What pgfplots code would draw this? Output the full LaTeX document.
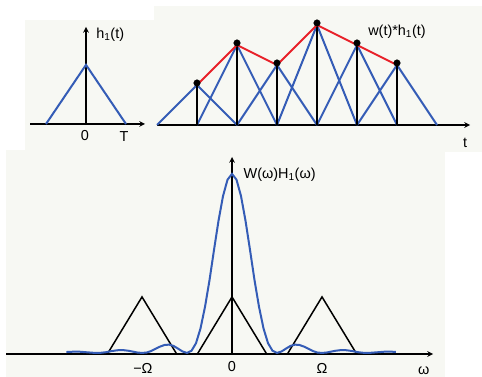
\documentclass[border=0pt]{standalone}
\usepackage{fontspec}
\setmainfont{Liberation Sans}
\usepackage{pgfplots}
\pgfplotsset{compat=1.18}
\usetikzlibrary{arrows.meta}
\definecolor{bgc}{RGB}{247,248,243}
\definecolor{cblue}{RGB}{52,92,182}
\definecolor{cred}{RGB}{232,32,40}
\begin{document}
\begin{tikzpicture}
\path[use as bounding box] (0,0) rectangle (482bp,377bp);
\fill[bgc] (25bp,227bp) rectangle (154bp,357bp);
\fill[bgc] (154bp,225bp) rectangle (482bp,371bp);
\fill[bgc] (6bp,0bp) rectangle (445bp,227bp);
\pgfplotsset{
  myax/.style={scale only axis, enlargelimits=false, clip=false,
    xtick=\empty, ytick=\empty,
    axis line style={-{Straight Barb[length=6bp,width=11bp]}, line width=1.5bp, black},
    font=\fontsize{14.5}{16}\selectfont},
}
% Panel 1: h1(t)
\begin{axis}[myax, axis lines=middle, width=115bp, height=97bp,
  xmin=-1.4, xmax=1.475, ymin=0, ymax=1.64,
  at={(30bp,253bp)}, anchor=south west]
\addplot[cblue, line width=2bp] coordinates {(-1,0) (0,1) (1,0)};
\node at (axis cs:-0.03,-0.2) {0};
\node at (axis cs:0.95,-0.22) {T};
\node[anchor=west] at (axis cs:0.17,1.51) {h\textsubscript{1}(t)};
\end{axis}
% Panel 2: w(t)*h1(t)
\begin{axis}[myax, axis x line=middle, axis y line=none, width=313bp, height=104bp,
  xmin=0, xmax=7.825, ymin=0, ymax=5.2,
  at={(157bp,252bp)}, anchor=south west]
\addplot[cblue, line width=2bp] coordinates {(0,0) (1,2) (2,0)};
\addplot[cblue, line width=2bp] coordinates {(1,0) (2,4) (3,0)};
\addplot[cblue, line width=2bp] coordinates {(2,0) (3,3) (4,0)};
\addplot[cblue, line width=2bp] coordinates {(3,0) (4,5) (5,0)};
\addplot[cblue, line width=2bp] coordinates {(4,0) (5,4) (6,0)};
\addplot[cblue, line width=2bp] coordinates {(5,0) (6,3) (7,0)};
\addplot[ycomb, black, line width=1.5bp] coordinates {(1,2) (2,4) (3,3) (4,5) (5,4) (6,3)};
\addplot[cred, line width=2bp] coordinates {(1,2) (2,4) (3,3) (4,5) (5,4) (6,3)};
\addplot[only marks, mark=*, mark size=3.3bp, black] coordinates {(1,2.1) (2,4.1) (3,3.1) (4,5.1) (5,4.1) (6,3.1)};
\node at (axis cs:7.7,-0.9) {t};
\node at (axis cs:6.0,4.65) {w(t)*h\textsubscript{1}(t)};
\end{axis}
% Panel 3: W(omega)H1(omega)
\begin{axis}[myax, axis lines=middle, width=427bp, height=197bp,
  xmin=-2.511, xmax=2.233, ymin=0, ymax=1.094,
  at={(6bp,23bp)}, anchor=south west]
\addplot[black, line width=1.5bp] coordinates {(-1.385,0) (-1,0.317) (-0.615,0)};
\addplot[black, line width=1.5bp] coordinates {(-0.385,0) (0,0.317) (0.385,0)};
\addplot[black, line width=1.5bp] coordinates {(0.615,0) (1,0.317) (1.385,0)};
\addplot[cblue, line width=2bp] coordinates {
(-1.84,0.011) (-1.80,0.012) (-1.75,0.013) (-1.70,0.013) (-1.65,0.011) (-1.60,0.009)
(-1.55,0.007) (-1.50,0.006) (-1.45,0.007) (-1.40,0.010) (-1.35,0.015) (-1.30,0.019)
(-1.25,0.022) (-1.20,0.021) (-1.15,0.018) (-1.10,0.013) (-1.05,0.008) (-1.00,0.006)
(-0.95,0.008) (-0.90,0.016) (-0.85,0.029) (-0.80,0.041) (-0.75,0.050) (-0.70,0.052)
(-0.65,0.045) (-0.60,0.030) (-0.55,0.014) (-0.50,0.006) (-0.45,0.018) (-0.40,0.060)
(-0.35,0.142) (-0.30,0.262) (-0.25,0.410) (-0.20,0.578) (-0.15,0.740) (-0.10,0.877)
(-0.05,0.968) (0,1.0) (0.05,0.968) (0.10,0.877) (0.15,0.740) (0.20,0.578)
(0.25,0.410) (0.30,0.262) (0.35,0.142) (0.40,0.060) (0.45,0.018) (0.50,0.006)
(0.55,0.014) (0.60,0.030) (0.65,0.045) (0.70,0.052) (0.75,0.050) (0.80,0.041)
(0.85,0.029) (0.90,0.016) (0.95,0.008) (1.00,0.006) (1.05,0.008) (1.10,0.013)
(1.15,0.018) (1.20,0.021) (1.25,0.022) (1.30,0.019) (1.35,0.015) (1.40,0.010)
(1.45,0.007) (1.50,0.006) (1.55,0.007) (1.60,0.009) (1.65,0.011) (1.70,0.013)
(1.75,0.013) (1.82,0.012)};
\node at (axis cs:-0.99,-0.078) {−Ω};
\node at (axis cs:0,-0.072) {0};
\node at (axis cs:1.0,-0.078) {Ω};
\node at (axis cs:2.13,-0.094) {ω};
\node[anchor=west] at (axis cs:0.09,0.994) {W(ω)H\textsubscript{1}(ω)};
\end{axis}
\end{tikzpicture}
\end{document}
